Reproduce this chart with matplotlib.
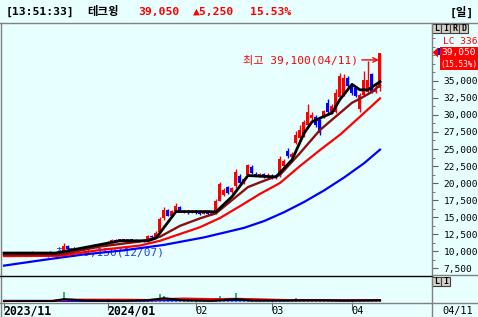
import numpy as np
import matplotlib
matplotlib.use('Agg')
import matplotlib.pyplot as plt
import matplotlib.transforms as mtransforms
from matplotlib.patches import Rectangle, Polygon
from matplotlib.ticker import MultipleLocator, FuncFormatter

W, H = 478, 317
BG = '#e8ffff'
MONO = ['DejaVu Sans Mono', 'Noto Sans CJK KR']

# 일봉 OHLC (2023/11/22 ~ 2024/04/11, 95 bars)
opens = [9750, 9700, 9750, 9800, 9720, 9700, 9650, 9750, 9850, 9750,
         9650, 9400, 9300, 9350, 9300, 9900, 10700, 10300, 10100, 10200,
         10400, 10300, 10600, 10500, 10800, 11000, 10900, 11300, 11600, 11500,
         11700, 11600, 11700, 11500, 11600, 11500, 11400, 12200, 12100, 12800,
         14800, 16000, 15200, 15900, 16500, 15800, 15900, 15700, 15900, 15600,
         15500, 15700, 15400, 15600, 17400, 18300, 19400, 18700, 19500, 21000,
         20100, 21200, 22400, 21300, 21100, 21300, 20900, 21100, 20800, 21000,
         22500, 24700, 23800, 25900, 26600, 27000, 28500, 29500, 29700, 29200,
         29800, 31700, 30400, 30500, 32700, 32900, 35400, 34400, 34000, 30900,
         33000, 33400, 36100, 33400, 34000]
highs = [9800, 9800, 9850, 9850, 9800, 9780, 9800, 9950, 9900, 9800,
         9700, 9500, 9450, 9500, 9400, 11200, 10900, 10400, 10300, 10500,
         10500, 10700, 10700, 10900, 11100, 11100, 11400, 11700, 11700, 11800,
         11800, 11800, 11750, 11700, 11650, 11600, 12400, 12300, 12900, 15000,
         16400, 16200, 16000, 17100, 16600, 16000, 16000, 16000, 16000, 15800,
         15800, 15750, 15700, 17600, 20100, 19300, 19600, 19400, 22000, 21300,
         20800, 22800, 22600, 21600, 21500, 21400, 21400, 21300, 21200, 24000,
         23500, 25100, 24600, 27600, 28500, 29200, 31600, 30500, 30000, 29400,
         30800, 32400, 31600, 33800, 36200, 36100, 35700, 34700, 34200, 33200,
         36400, 38000, 36200, 34700, 39100]
lows = [9650, 9650, 9700, 9700, 9650, 9600, 9600, 9700, 9700, 9600,
        9300, 9150, 9200, 9250, 9200, 9800, 10200, 10000, 10000, 10100,
        10200, 10250, 10400, 10450, 10700, 10800, 10850, 11200, 11400, 11400,
        11500, 11500, 11400, 11450, 11400, 11300, 11350, 11900, 12000, 12700,
        14600, 15100, 15100, 15800, 15700, 15600, 15500, 15600, 15500, 15300,
        15400, 15300, 15300, 15500, 17300, 18100, 18400, 18500, 19300, 19900,
        19900, 21000, 21300, 21000, 20900, 20800, 20800, 20600, 20600, 20900,
        22300, 23700, 23500, 25700, 26400, 26800, 28300, 29200, 28300, 27100,
        29500, 30200, 30200, 30300, 32500, 32800, 34100, 33000, 32600, 30500,
        32800, 33200, 33300, 33200, 33500]
closes = [9700, 9750, 9800, 9720, 9700, 9650, 9750, 9850, 9750, 9650,
          9400, 9300, 9350, 9300, 9350, 10700, 10300, 10100, 10200, 10400,
          10300, 10600, 10500, 10800, 11000, 10900, 11300, 11600, 11500, 11700,
          11600, 11700, 11500, 11600, 11500, 11400, 12200, 12100, 12700, 14700,
          16000, 15200, 15900, 16600, 15800, 15900, 15700, 15900, 15600, 15500,
          15700, 15400, 15600, 17300, 19800, 19000, 18600, 19200, 21600, 20000,
          20600, 22600, 21400, 21100, 21300, 20900, 21200, 20800, 21000, 23600,
          23300, 23900, 24200, 27000, 27800, 29000, 30400, 30000, 28500, 27400,
          30600, 30400, 31300, 33200, 35800, 35500, 34300, 33200, 32800, 33000,
          35100, 35100, 33400, 33800, 39050]
volumes = [3, 3, 2, 3, 3, 2, 3, 4, 3, 3, 4, 4, 3, 3, 4, 35, 6, 4, 3, 3,
           3, 4, 3, 3, 4, 3, 3, 4, 3, 3, 3, 3, 3, 3, 3, 3, 9, 4, 5, 26,
           22, 8, 6, 5, 4, 3, 3, 4, 3, 3, 3, 3, 3, 13, 22, 6, 5, 4, 30, 8,
           5, 6, 4, 4, 3, 3, 3, 3, 3, 4, 4, 4, 4, 13, 5, 5, 6, 4, 4, 4,
           9, 5, 4, 5, 9, 5, 4, 4, 4, 5, 4, 4, 5, 4, 9]

# 이동평균선
ma5_idx = [0, 13, 21, 29, 36, 38, 43, 51, 53, 57, 61, 64, 68, 72, 75, 77, 80, 82, 84, 87, 89, 91, 94]
ma5_val = [9700, 9700, 10600, 11500, 11500, 11900, 15800, 15800, 15750, 18000, 21100, 21000,
           20900, 23400, 27300, 29000, 29800, 30300, 32300, 34500, 33700, 33700, 34900]
ma20_idx = [0, 14, 24, 34, 39, 44, 49, 53, 56, 61, 64, 69, 74, 79, 84, 87, 89, 92, 94]
ma20_val = [9450, 9500, 10650, 11400, 12100, 13700, 14800, 15550, 17000, 19400, 20100,
            21200, 24400, 27800, 30300, 31800, 32400, 33400, 34400]
ma60_idx = [0, 14, 24, 34, 39, 44, 49, 54, 59, 64, 69, 74, 79, 84, 89, 94]
ma60_val = [9250, 9300, 10150, 10800, 11500, 12500, 13500, 14850, 16600, 18400, 20000,
            22500, 24850, 27100, 29750, 32450]
ma120_idx = [0, 10, 20, 30, 40, 50, 60, 65, 70, 75, 80, 85, 90, 94]
ma120_val = [7850, 8700, 9500, 10100, 10900, 12000, 13400, 14400, 15700, 17200, 18900,
             20800, 22900, 24900]

vma_idx = [0, 12, 15, 20, 30, 36, 40, 45, 52, 58, 62, 70, 75, 80, 85, 94]
vma5_val = [2, 3, 10, 5, 4, 6, 13, 6, 4, 10, 5, 5, 6, 6, 5, 6]
vma20_val = [3, 3, 8, 8, 8, 7, 10, 12, 10, 11, 10, 7, 6, 6, 6, 6]
vma60_val = [4, 4, 4, 4, 5, 5, 6, 6, 6, 6, 6, 6, 6, 6, 5, 6]

date_idx = [0, 26, 48, 67, 87]
date_lbl = ['2023/11', '2024/01', '02', '03', '04']
date_bold = [True, True, False, False, False]
price_ticks = list(range(7500, 35001, 2500))

fig = plt.figure(figsize=(W / 100, H / 100), dpi=100, facecolor=BG)
T = mtransforms.Affine2D().scale(1 / W, -1 / H).translate(0, 1) + fig.transFigure


def px_axes(x0, y0, x1, y1):
    a = fig.add_axes([x0 / W, 1 - y1 / H, (x1 - x0) / W, (y1 - y0) / H])
    a.set_facecolor(BG)
    for s in a.spines.values():
        s.set_visible(False)
    return a


def line(xs, ys, color, lw=1.0):
    fig.add_artist(plt.Line2D(xs, ys, color=color, lw=lw, transform=T))


# ---- 가격 패널
ax = px_axes(2, 23, 432, 275)
idx = np.arange(len(closes))
o = np.array(opens); c = np.array(closes)
col = np.where(c >= o, '#ff0000', '#0000ff')
ax.vlines(idx, lows, highs, colors=col, lw=1, zorder=3)
ax.bar(idx, np.maximum(np.abs(c - o), 120), bottom=np.minimum(o, c), width=0.75,
       color=col, linewidth=0, zorder=3)
ax.plot(ma120_idx, ma120_val, color='#0000ff', lw=1.6, zorder=4)
ax.plot(ma60_idx, ma60_val, color='#ff0000', lw=1.6, zorder=4)
ax.plot(ma20_idx, ma20_val, color='#8b1010', lw=1.7, zorder=5)
ax.plot(ma5_idx, ma5_val, color='#000000', lw=2, zorder=6)
ax.set_xlim(-0.5, 107)
ax.set_ylim(6471, 43529)
ax.set_xticks([])
ax.yaxis.tick_right()
ax.set_yticks(price_ticks)
ax.yaxis.set_minor_locator(MultipleLocator(1250))
ax.yaxis.set_major_formatter(FuncFormatter(lambda v, p: f'{v:,.0f}'))
ax.tick_params(axis='y', which='major', direction='out', length=4, color='#606060', pad=4.5,
               labelsize=6.8, labelcolor='black')
ax.tick_params(axis='y', which='minor', direction='out', length=2, color='#606060')
for t in ax.get_yticklabels():
    t.set_family(MONO)

hi_i = int(np.argmax(highs))
ax.annotate(f'최고 {highs[hi_i]:,}(04/11)', xy=(hi_i - 0.3, highs[hi_i] - 1000),
            xytext=(hi_i - 5.6, highs[hi_i] - 1000), ha='right', va='center',
            color='#ff0000', fontsize=8, family=MONO, zorder=7,
            arrowprops=dict(arrowstyle='->', color='#ff0000', lw=1, shrinkA=1, shrinkB=0))
lo_i = int(np.argmin(lows[:40]))
ax.text(lo_i + 0.3, lows[lo_i] + 700, f'←최저 {lows[lo_i]:,}(12/07)', ha='left', va='center',
        color='#2040e0', fontsize=8, family=MONO, zorder=2)

# ---- 거래량 패널
axv = px_axes(2, 276, 432, 302)
axv.bar(idx, volumes, width=0.6, color='#3cb371', linewidth=0, zorder=2)
axv.plot(vma_idx, vma60_val, color='#0000ff', lw=1.5, zorder=3)
axv.plot(vma_idx, vma20_val, color='#ff0000', lw=1.5, zorder=3)
axv.plot(vma_idx, vma5_val, color='#000000', lw=1.5, zorder=3)
axv.set_xlim(-0.5, 107)
axv.set_ylim(0, 90)
axv.set_yticks([])
axv.set_xticks(date_idx)
axv.set_xticklabels([])
axv.tick_params(axis='x', direction='out', length=6, color='#606060')
bt = mtransforms.blended_transform_factory(axv.transData, T)
for i, s, b in zip(date_idx, date_lbl, date_bold):
    fig.text(i - 0.25, 311, s, transform=bt, ha='left', va='center', family=MONO,
             fontsize=8.3 if b else 7.4, fontweight='bold' if b else 'normal')

# ---- 프레임
line([0, W], [22.5, 22.5], '#808080')
line([1.5, 1.5], [22.5, H], '#808080')
line([432, 432], [22.5, H], '#808080')
line([0, 432], [275.5, 275.5], 'black')
line([432, W], [274.5, 274.5], '#808080')
line([0, W], [302.8, 302.8], '#808080')

# ---- 헤더
hdr = [(6, '[13:51:33]', 'black'), (87, '테크윙', 'black'), (138, '39,050', '#ff0000'),
       (193, '▲5,250', '#ff0000'), (250, '15.53%', '#ff0000'), (450, '[일]', 'black')]
for x, s, cl in hdr:
    fig.text(x, 12, s, transform=T, ha='left', va='center', color=cl, family=MONO,
             fontsize=8.2, fontweight='bold')

# ---- 우측 패널 요소
def buttons(x0, y0, letters):
    for k, ch in enumerate(letters):
        fig.add_artist(Rectangle((x0 + 9 * k, y0), 9, 8.5, transform=T, facecolor='#d4d0c8',
                                 edgecolor='#404040', lw=0.8))
        fig.text(x0 + 9 * k + 4.5, y0 + 4.5, ch, transform=T, ha='center', va='center',
                 fontsize=6, fontweight='bold', family=MONO)


buttons(432.5, 24, 'LIRD')
buttons(432.5, 277, 'LI')
fig.text(443, 41, 'LC 336', transform=T, ha='left', va='center', color='#ff0000',
         family=MONO, fontsize=6.8)
fig.add_artist(Rectangle((440, 47), 40, 23, transform=T, facecolor='#ff0000', lw=0))
fig.add_artist(Polygon([[432.5, 52.5], [438, 47.5], [438, 57.5]], closed=True, transform=T,
                       facecolor='#ff0000', lw=0))
fig.add_artist(Rectangle((438, 48), 1.6, 7, transform=T, facecolor='#0000ff', lw=0))
fig.text(441, 53, f'{closes[-1]:,}', transform=T, ha='left', va='center', color='white',
         family=MONO, fontsize=6.8)
fig.text(440.5, 64, '(15.53%)', transform=T, ha='left', va='center', color='white',
         family=MONO, fontsize=5.6)
fig.text(442, 311, '04/11', transform=T, ha='left', va='center', family=MONO, fontsize=7.4)

fig.savefig('out.png', dpi=100, facecolor=BG)
